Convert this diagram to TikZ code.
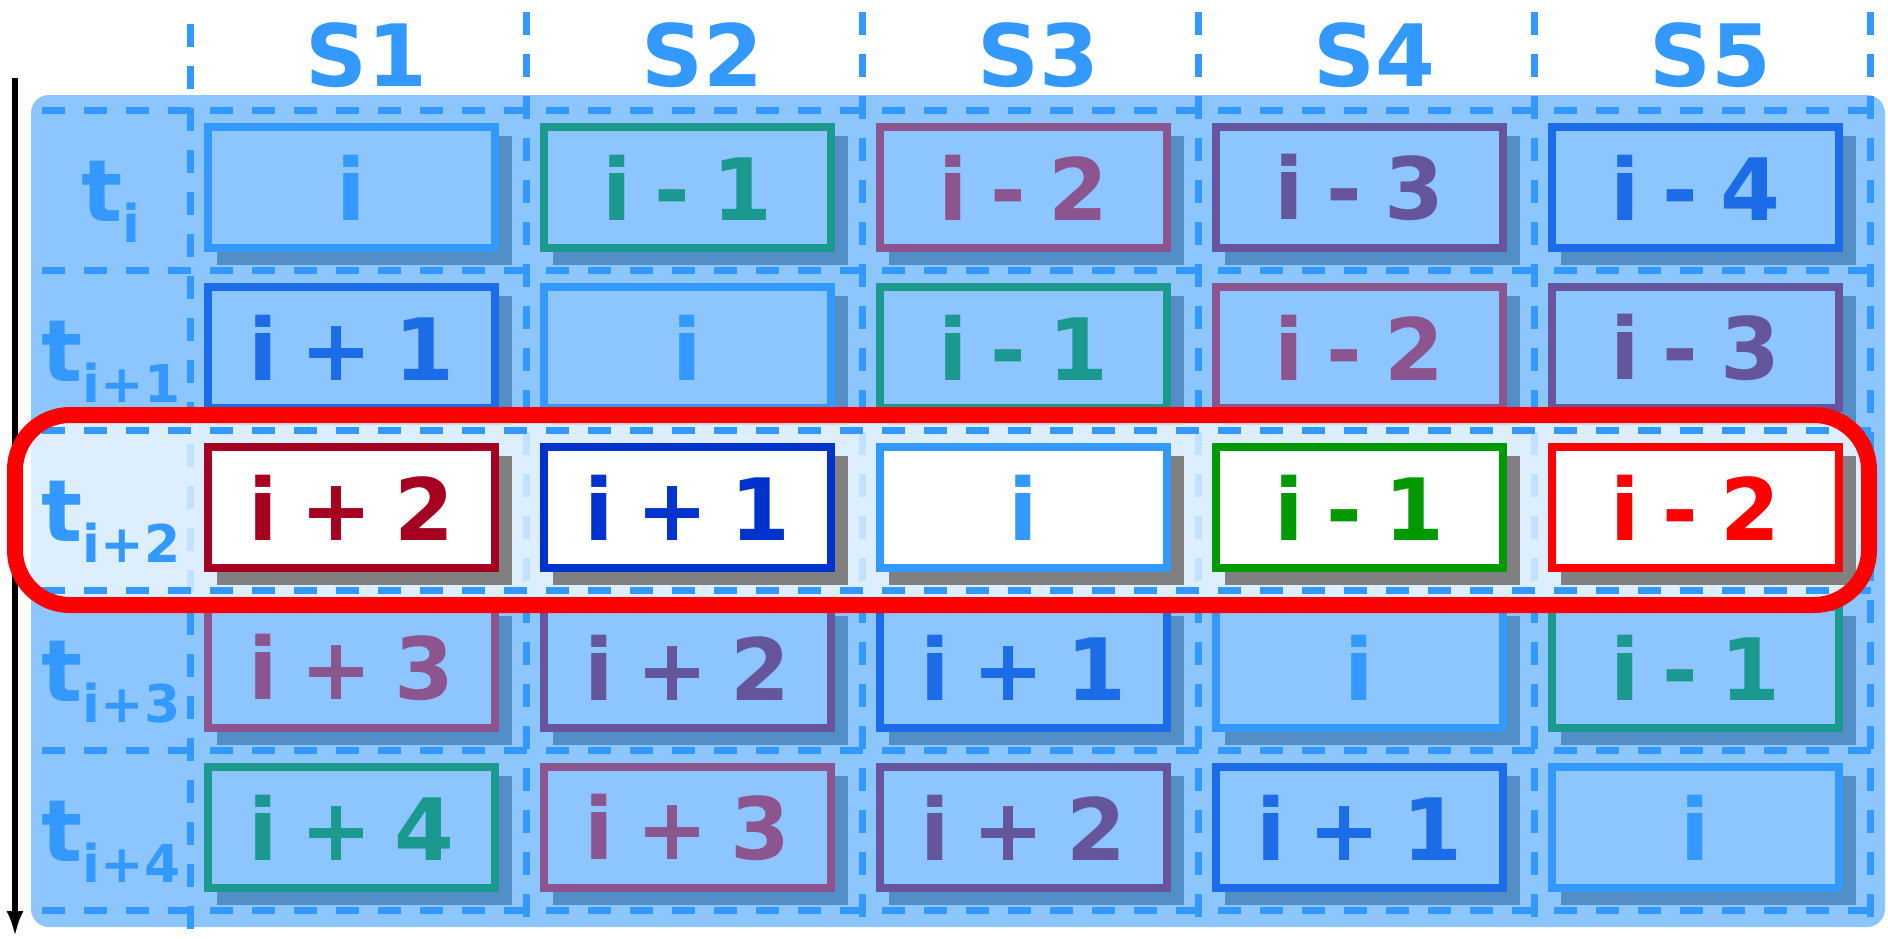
\documentclass[tikz,border=0pt]{standalone}
\usepackage{fontspec}
\setmainfont{DejaVu Sans}[WordSpace=0.75]
\usetikzlibrary{arrows.meta}

\definecolor{skyc}{HTML}{3399FF}
\definecolor{navyc}{HTML}{0033CC}
\definecolor{wine}{HTML}{A50021}
\definecolor{redc}{HTML}{FF0000}
\definecolor{leaf}{HTML}{009900}
\definecolor{shade}{HTML}{808080}
% colour of a cell, chosen by (row - column) mod 5
\colorlet{tone0}{skyc}
\colorlet{tone1}{navyc}
\colorlet{tone2}{wine}
\colorlet{tone3}{redc}
\colorlet{tone4}{leaf}

\newcommand{\bigtext}{\fontsize{86}{86}\selectfont\bfseries}
\newcommand{\subtx}[1]{\raisebox{-21pt}{\fontsize{52}{52}\selectfont #1}}

% one stage cell: drop shadow plus framed box with its index
\newcommand{\mkcell}[2]{%
  \pgfmathtruncatemacro{\celloff}{#1-#2}%
  \pgfmathtruncatemacro{\celltone}{mod(\celloff+5,5)}%
  \pgfmathtruncatemacro{\cellabs}{abs(\celloff)}%
  \pgfmathsetmacro{\cellx}{351.5+336*#2}%
  \pgfmathsetmacro{\celly}{187.5+160*#1}%
  \ifnum\celloff=0 \def\celltext{i}\else
    \ifnum\celloff>0 \edef\celltext{i + \cellabs}\else\edef\celltext{i - \cellabs}\fi
  \fi
  \node[shadowbox] (s-#1-#2) at (\cellx+13,\celly+13) {};
  \node[cellbox, draw=tone\celltone, text=tone\celltone] (b-#1-#2) at (\cellx,\celly) {\celltext};
}

\begin{document}
\begin{tikzpicture}[x=1pt, y=-1pt,
  cellbox/.style={rectangle, line width=8pt, fill=white, minimum width=287pt,
    minimum height=121pt, inner sep=0pt, font=\bigtext},
  shadowbox/.style={rectangle, fill=shade, minimum width=295pt,
    minimum height=129pt, inner sep=0pt},
  headtext/.style={font=\bigtext, text=skyc, inner sep=0pt, anchor=base},
  labtext/.style={font=\bigtext, text=skyc, inner sep=0pt, anchor=base},
  gridline/.style={skyc, line width=7pt, dash pattern=on 23pt off 19pt},
  timeaxis/.style={black, line width=6pt, -{Latex[length=26pt,width=17pt]}},
  frame/.style={redc, line width=16pt, rounded corners=55pt}]
\useasboundingbox (0,0) rectangle (1888,938);

% time axis
\coordinate (ax-top) at (15,78);
\coordinate (ax-end) at (15,937);
\draw[timeaxis] (ax-top) -- (ax-end);

% cells of the rows in the background
\foreach \r in {0,1,3,4}{
  \foreach \c in {0,...,4}{ \mkcell{\r}{\c} }
}

% column separators
\coordinate (vt0) at (190,24);
\coordinate (vb0) at (190,932);
\draw[gridline] (vt0) -- (vb0);
\foreach \k in {1,...,5}{
  \coordinate (vt\k) at (190+336*\k,12);
  \coordinate (vb\k) at (190+336*\k,918);
  \draw[gridline] (vt\k) -- (vb\k);
}

% stage headers
\foreach \k in {1,...,5}{
  \node[headtext] (h\k) at (190+336*\k-336+176,86) {S\k};
}

% blue veil over the table
\fill[skyc, fill opacity=0.56, rounded corners=18pt] (31,95) rectangle (1885,927);

% lighter band behind the highlighted time step
\fill[white, fill opacity=0.7, rounded corners=55pt] (15,415) rectangle (1869,605);

% row separators
\foreach \k in {0,...,5}{
  \coordinate (hl\k) at (42,110+160*\k);
  \coordinate (hr\k) at (1878,110+160*\k);
  \draw[gridline] (hl\k) -- (hr\k);
}

% time step labels
\node[labtext] (lab0) at (111,221) {t\subtx{i}};
\node[labtext] (lab1) at (111,381) {t\subtx{i+1}};
\node[labtext] (lab2) at (111,541) {t\subtx{i+2}};
\node[labtext] (lab3) at (111,701) {t\subtx{i+3}};
\node[labtext] (lab4) at (111,861) {t\subtx{i+4}};

% highlighted time step
\foreach \c in {0,...,4}{ \mkcell{2}{\c} }

\draw[frame] (15,415) rectangle (1869,605);
\end{tikzpicture}
\end{document}
